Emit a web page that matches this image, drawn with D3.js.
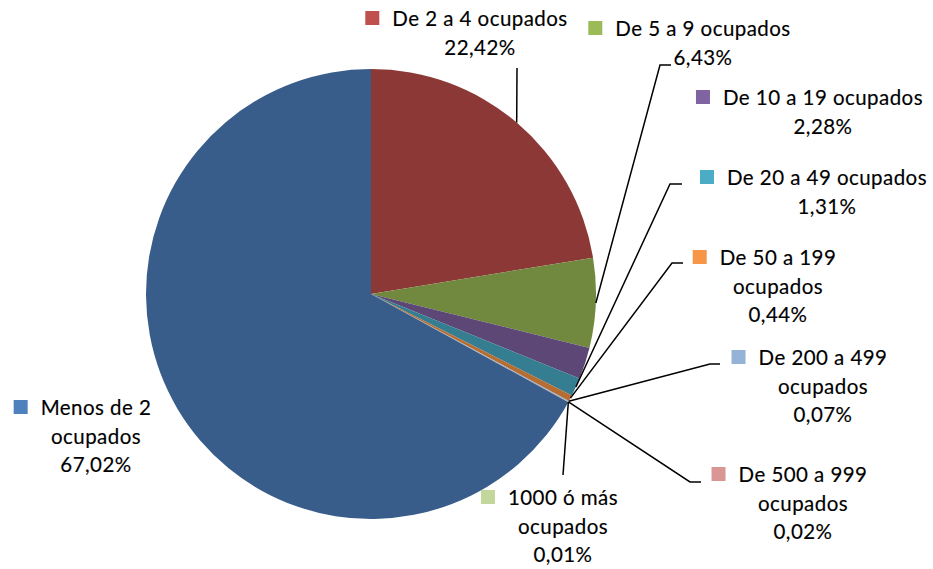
<!DOCTYPE html>
<html lang="es">
<head>
<meta charset="UTF-8">
<title>Pie</title>
<script src="https://cdn.jsdelivr.net/npm/d3@7"></script>
<style>
    body { margin: 0; background: #fff; }
    text { font-family: Lato, "Open Sans", sans-serif; font-size: 20.5px; letter-spacing: 0.45px; fill: #000; stroke: #000; stroke-width: 0.15px; }
</style>
</head>
<body>
<div id="chart"></div>
<script>
    // data
    const categories = ["De 2 a 4 ocupados", "De 5 a 9 ocupados", "De 10 a 19 ocupados", "De 20 a 49 ocupados",
        "De 50 a 199 ocupados", "De 200 a 499 ocupados", "De 500 a 999 ocupados", "1000 ó más ocupados", "Menos de 2 ocupados"];
    const values = [22.42, 6.43, 2.28, 1.31, 0.44, 0.07, 0.02, 0.01, 67.02];
    const sliceColors = ["#8C3836", "#71893F", "#5D4776", "#357D91", "#B66D31", "#8EA5CB", "#C77E7C", "#A6BE72", "#385D8A"];
    const keyColors = ["#C0504D", "#9BBB59", "#8064A2", "#4BACC6", "#F79646", "#95B3D7", "#D99694", "#C3D69B", "#4F81BD"];

    // label layout: center x, first baseline, whether to break name before "ocupados", leader elbow points
    const labelLayout = [
        {x: 480, y: 26, br: false, leader: [[517, 68]]},
        {x: 703, y: 36, br: false, leader: [[660, 65], [671, 65]]},
        {x: 823, y: 105, br: false, leader: null},
        {x: 827, y: 185, br: false, leader: [[670, 184], [682, 184]]},
        {x: 778, y: 265, br: true, leader: [[672, 263], [683, 263]]},
        {x: 823, y: 365, br: true, leader: [[710, 364], [720, 364]]},
        {x: 803, y: 482, br: true, leader: [[690, 482], [701, 482]]},
        {x: 563, y: 505, br: true, leader: [[563, 475]]},
        {x: 96, y: 415, br: true, leader: null}
    ];

    const W = 933, H = 569;
    const cx = 371, cy = 294, r = 225;
    const lineH = 28.5;
    const fmt = d3.formatLocale({decimal: ",", thousands: ".", grouping: [3], currency: ["", ""]}).format(".2f");

    const svg = d3.select("#chart").append("svg").attr("width", W).attr("height", H);
    const g = svg.append("g").attr("transform", "translate(" + cx + "," + cy + ")");

    const pie = d3.pie().sort(null).startAngle(0).endAngle(2 * Math.PI);
    const arcs = pie(values);
    const arc = d3.arc().innerRadius(0).outerRadius(r);

    g.selectAll("path.slice")
        .data(arcs)
        .enter()
        .append("path")
        .attr("class", "slice")
        .attr("d", arc)
        .attr("fill", (d, i) => sliceColors[i]);

    // leader lines
    arcs.forEach((d, i) => {
        const L = labelLayout[i];
        if (!L.leader) return;
        const a = (d.startAngle + d.endAngle) / 2;
        const p0 = [cx + r * Math.sin(a), cy - r * Math.cos(a)];
        svg.append("path")
            .attr("d", d3.line()([p0].concat(L.leader)))
            .attr("fill", "none")
            .attr("stroke", "#000")
            .attr("stroke-width", 1.5);
    });

    // labels
    arcs.forEach((d, i) => {
        const L = labelLayout[i];
        const name = categories[i];
        let lines = L.br ? [name.replace(/ ocupados$/, ""), "ocupados"] : [name];
        lines.push(fmt(values[i]) + "%");
        const t = svg.append("text").attr("text-anchor", "middle");
        lines.forEach((s, k) => {
            t.append("tspan").attr("x", L.x).attr("y", L.y + k * lineH).text(s);
        });
        const first = t.select("tspan").node();
        const w = first.getComputedTextLength();
        svg.append("rect")
            .attr("x", L.x - w / 2 - 27)
            .attr("y", L.y - 15)
            .attr("width", 14)
            .attr("height", 14)
            .attr("fill", keyColors[i]);
    });
</script>
</body>
</html>
